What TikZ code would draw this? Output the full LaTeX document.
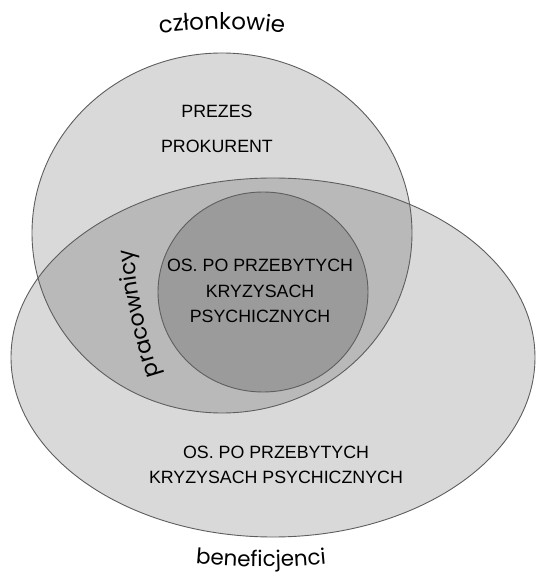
\documentclass[tikz,border=0pt]{standalone}
\usepackage{fontspec}
\setmainfont{Liberation Sans}
\newfontfamily\labelfont{Poppins}
\usetikzlibrary{decorations.text}
\definecolor{lightg}{HTML}{D9D9D9}
\definecolor{midg}{HTML}{B9B9B9}
\definecolor{darkg}{HTML}{9B9B9B}
\definecolor{edgeg}{HTML}{5E5E5E}
\begin{document}
\begin{tikzpicture}[x=1pt,y=1pt,
  setline/.style={draw=edgeg, line width=0.9pt},
  caps/.style={font=\fontsize{17.8}{20}\selectfont, anchor=base, inner sep=0pt},
  curvelabel/.style 2 args={decorate, decoration={text along path, text align=center, text={|\labelfont\fontsize{#1}{24}\selectfont|#2}}}]
\useasboundingbox (0,0) rectangle (538,574);
% fills
\fill[lightg] (222,341) ellipse [x radius=190, y radius=180];
\fill[lightg] (273,216.5) ellipse [x radius=262, y radius=179.5];
\begin{scope}
  \clip (222,341) ellipse [x radius=190, y radius=180];
  \fill[midg] (273,216.5) ellipse [x radius=262, y radius=179.5];
\end{scope}
\fill[darkg] (263,282) ellipse [x radius=105, y radius=100];
% outlines
\draw[setline] (222,341) ellipse [x radius=190, y radius=180];
\draw[setline] (273,216.5) ellipse [x radius=262, y radius=179.5];
\draw[setline] (263,282) ellipse [x radius=105, y radius=100];
% texts
\node[caps] (prezes) at (217,456) {PREZES};
\node[caps] (prokurent) at (217,421) {PROKURENT};
\node[caps] (in1) at (260,302) {OS. PO PRZEBYTYCH};
\node[caps] (in2) at (260,276) {KRYZYSACH};
\node[caps] (in3) at (260,251) {PSYCHICZNYCH};
\node[caps] (out1) at (276,115) {OS. PO PRZEBYTYCH};
\node[caps] (out2) at (276,90) {KRYZYSACH PSYCHICZNYCH};
% curved labels
\path[curvelabel={23}{członkowie}] (140,538) to[bend left=8] (304,538);
\path[curvelabel={21.5}{beneficjenci}] (180,12) to[bend right=6] (342,12);
\path[curvelabel={22}{pracownicy}] (162,190) to[bend left=6] (132,334);
\end{tikzpicture}
\end{document}
